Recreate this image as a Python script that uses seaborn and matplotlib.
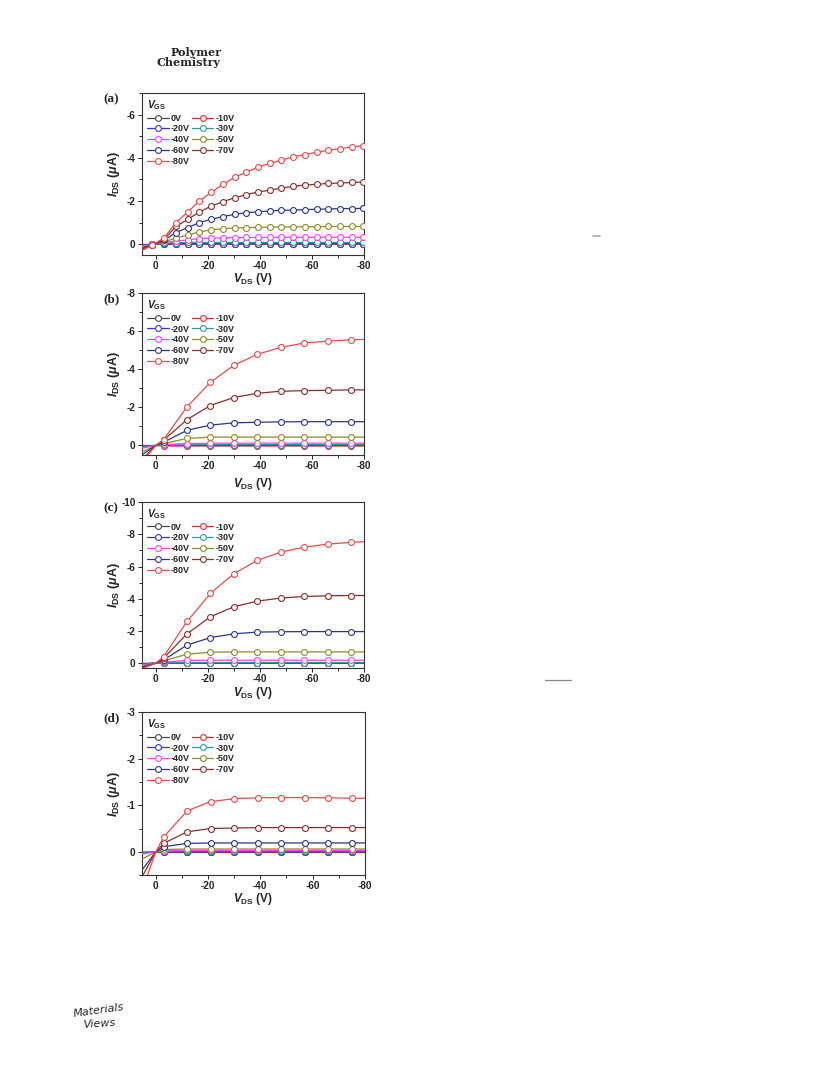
import matplotlib
matplotlib.use("Agg")
import matplotlib.pyplot as plt
from matplotlib.lines import Line2D
from matplotlib.ticker import MultipleLocator
import seaborn as sns

## Gate voltages and colours for the legend
vgs = ['0V', '-10V', '-20V', '-30V', '-40V', '-50V', '-60V', '-70V', '-80V']
colors = ['#4a4a4a', '#e62e2a', '#3535d2', '#2a9d9d', '#ff3cff',
          '#8c8c2a', '#28368c', '#8c2e2e', '#ec4a4a']

## Panel (a): drain voltage points (first one is the line end, rest carry markers)
vds_a = [5.4, 1.3, -3.2, -7.8, -12.3, -16.8, -21.3, -25.8, -30.3, -34.8, -39.3,
         -43.8, -48.3, -52.8, -57.3, -61.8, -66.3, -70.8, -75.3, -79.8]
ids_a = [
    [0.02] + [0.0] * 19,
    [0.03] + [0.0] * 19,
    [0.05, 0.0] + [-0.02] * 18,
    [0.08, 0.0, -0.05, -0.07] + [-0.08] * 16,
    [0.10, 0.01, -0.08, -0.15, -0.20, -0.26, -0.28, -0.30, -0.30, -0.31, -0.31,
     -0.31, -0.32, -0.32, -0.32, -0.32, -0.32, -0.32, -0.32, -0.32],
    [0.15, 0.02, -0.12, -0.28, -0.43, -0.57, -0.66, -0.72, -0.75, -0.77, -0.78,
     -0.79, -0.80, -0.80, -0.81, -0.81, -0.82, -0.82, -0.82, -0.82],
    [0.20, 0.02, -0.18, -0.54, -0.77, -1.00, -1.15, -1.28, -1.38, -1.46, -1.50,
     -1.54, -1.57, -1.58, -1.60, -1.62, -1.63, -1.65, -1.65, -1.66],
    [0.25, 0.03, -0.23, -0.82, -1.15, -1.49, -1.77, -1.97, -2.15, -2.30, -2.42,
     -2.50, -2.60, -2.68, -2.74, -2.77, -2.82, -2.83, -2.86, -2.88],
    [0.30, 0.05, -0.30, -1.00, -1.50, -2.00, -2.40, -2.77, -3.10, -3.34, -3.57,
     -3.74, -3.89, -4.05, -4.15, -4.26, -4.35, -4.43, -4.50, -4.57],
]

## Panels (b)-(d) share the drain voltage grid (markers at -3 .. -75)
vds_bcd = [5.4, 0, -3, -12, -21, -30, -39, -48, -57, -66, -75, -80]

ids_b = [
    [0.0] * 12,
    [0.03, 0.0] + [0.02] * 10,
    [0.05, 0.0] + [0.0] * 10,
    [0.10, 0.0, -0.02, -0.04] + [-0.05] * 8,
    [0.15, 0.0, -0.05, -0.10] + [-0.12] * 8,
    [0.35, 0.0, -0.10, -0.37] + [-0.44] * 8,
    [0.50, 0.0, -0.17, -0.80, -1.07, -1.19, -1.22, -1.24, -1.25, -1.25, -1.25, -1.25],
    [0.75, 0.0, -0.28, -1.36, -2.10, -2.52, -2.74, -2.85, -2.88, -2.90, -2.92, -2.92],
    [0.90, 0.0, -0.31, -2.03, -3.32, -4.21, -4.79, -5.15, -5.38, -5.48, -5.55, -5.57],
]

ids_c = [
    [0.02, 0.0] + [0.0] * 10,
    [0.03, 0.0] + [0.0] * 10,
    [0.05, 0.0] + [0.0] * 10,
    [0.08, 0.0, -0.02] + [-0.03] * 9,
    [0.12, 0.0, -0.06, -0.17] + [-0.18] * 8,
    [0.20, 0.0, -0.14, -0.56, -0.68] + [-0.70] * 7,
    [0.25, 0.0, -0.20, -1.12, -1.59, -1.82, -1.93, -1.95, -1.96, -1.96, -1.96, -1.96],
    [0.30, 0.0, -0.31, -1.82, -2.88, -3.50, -3.85, -4.04, -4.14, -4.18, -4.20, -4.20],
    [0.35, 0.0, -0.41, -2.59, -4.33, -5.55, -6.38, -6.89, -7.20, -7.39, -7.50, -7.54],
]

ids_d = [
    [0.0] * 12,
    [0.01, 0.0] + [0.0] * 10,
    [0.02, 0.0] + [0.0] * 10,
    [0.03, 0.0, -0.01] + [-0.02] * 9,
    [0.05, 0.0, -0.02] + [-0.03] * 9,
    [0.16, 0.0, -0.05] + [-0.06] * 9,
    [0.40, 0.0, -0.11, -0.18] + [-0.19] * 8,
    [0.55, 0.0, -0.18, -0.43, -0.50, -0.51] + [-0.52] * 6,
    [0.85, 0.0, -0.32, -0.88, -1.08, -1.14, -1.16, -1.165, -1.165, -1.16, -1.15, -1.15],
]

sns.set_style("ticks")
plt.rcParams['font.family'] = ['Liberation Sans', 'DejaVu Sans']
plt.rcParams['axes.unicode_minus'] = False
plt.rcParams['mathtext.fontset'] = 'custom'
plt.rcParams['mathtext.rm'] = 'Liberation Sans:bold'
plt.rcParams['mathtext.it'] = 'Liberation Sans:italic:bold'
plt.rcParams['mathtext.bf'] = 'Liberation Sans:bold'

fig = plt.figure(figsize=(8.16, 10.79), dpi=100)


def draw_panel(rect, vds, curves, marks, ylim, ystep, tag, xlab_y):
    ax = fig.add_axes(rect)
    for i, ys in enumerate(curves):
        sns.lineplot(x=vds, y=ys, ax=ax, color=colors[i], lw=0.9, sort=False,
                     estimator=None, legend=False, zorder=2 + i)
        sns.scatterplot(x=vds[marks[0]:marks[1]], y=ys[marks[0]:marks[1]], ax=ax,
                        marker='o', s=18, facecolor='white', edgecolor=colors[i],
                        linewidth=0.8, legend=False, zorder=2 + i)
    ax.set_xlim(5.3, -80)
    ax.set_ylim(*ylim)
    ax.xaxis.set_major_locator(MultipleLocator(20))
    ax.xaxis.set_minor_locator(MultipleLocator(10))
    ax.yaxis.set_major_locator(MultipleLocator(ystep))
    ax.yaxis.set_minor_locator(MultipleLocator(ystep / 2))
    ax.tick_params(which='both', direction='out', labelsize=7.2, width=0.7,
                   top=False, right=False)
    ax.tick_params(which='major', length=3, pad=1.5)
    ax.tick_params(which='minor', length=2)
    for lab in ax.get_xticklabels() + ax.get_yticklabels():
        lab.set_fontweight('bold')
    for sp in ax.spines.values():
        sp.set_linewidth(0.8)
        sp.set_color('#333333')
    ax.set_xlabel(r'$V_{\mathrm{DS}}$ (V)', fontsize=8.5, fontweight='bold')
    ax.set_ylabel(r'$I_{\mathrm{DS}}$ ($\mu$A)', fontsize=9, fontweight='bold')
    ax.xaxis.set_label_coords(0.5, xlab_y)
    ax.yaxis.set_label_coords(-0.09, 0.5)

    handles = [Line2D([], [], color=c, lw=0.9, marker='o', ms=4.2, mfc='white',
                      mec=c, mew=0.8) for c in colors]
    order = [0, 2, 4, 6, 8, 1, 3, 5, 7]
    leg = ax.legend([handles[k] for k in order], [vgs[k] for k in order],
                    title=r'$V_{\mathrm{GS}}$', ncol=2, loc='upper left',
                    frameon=False, fontsize=6.5, title_fontsize=7.5,
                    handlelength=2.4, handletextpad=0.2, columnspacing=0.25,
                    labelspacing=0.2, borderpad=0.25, borderaxespad=0.3,
                    alignment='left', numpoints=1)
    for t in leg.get_texts():
        t.set_fontweight('bold')
    pos = ax.get_position()
    fig.text(0.127, pos.y1 - 0.006, tag, fontsize=9.5, fontweight='bold',
             family='Liberation Serif', ha='left', va='center')
    return ax


draw_panel([0.174, 0.7637, 0.272, 0.150], vds_a, ids_a, (1, 20), (0.5, -7), 2, '(a)', -0.10)
draw_panel([0.174, 0.5783, 0.272, 0.150], vds_bcd, ids_b, (2, 11), (0.5, -8), 2, '(b)', -0.13)
draw_panel([0.174, 0.3809, 0.272, 0.1538], vds_bcd, ids_c, (2, 11), (0.3, -10), 2, '(c)', -0.10)
draw_panel([0.174, 0.1890, 0.273, 0.151], vds_bcd, ids_d, (2, 11), (0.5, -3), 1, '(d)', -0.10)

# page furniture
fig.text(222 / 816, 1 - 52 / 1079, 'Polymer', ha='right', va='center', fontsize=8,
         fontweight='bold', family='DejaVu Serif')
fig.text(221 / 816, 1 - 63 / 1079, 'Chemistry', ha='right', va='center', fontsize=8,
         fontweight='bold', family='DejaVu Serif')
fig.add_artist(Line2D([593 / 816, 600 / 816], [1 - 236 / 1079] * 2, color='#aaaaaa', lw=1.2))
fig.add_artist(Line2D([545 / 816, 571 / 816], [1 - 680 / 1079] * 2, color='#888888', lw=0.9))
fig.text(73 / 816, 1 - 1010 / 1079, 'Materials', fontsize=8, style='italic',
         family='DejaVu Sans', rotation=8, va='center')
fig.text(83 / 816, 1 - 1024 / 1079, 'Views', fontsize=8, style='italic',
         family='DejaVu Sans', rotation=4, va='center')

fig.savefig('out.png', dpi=100, facecolor='white')
